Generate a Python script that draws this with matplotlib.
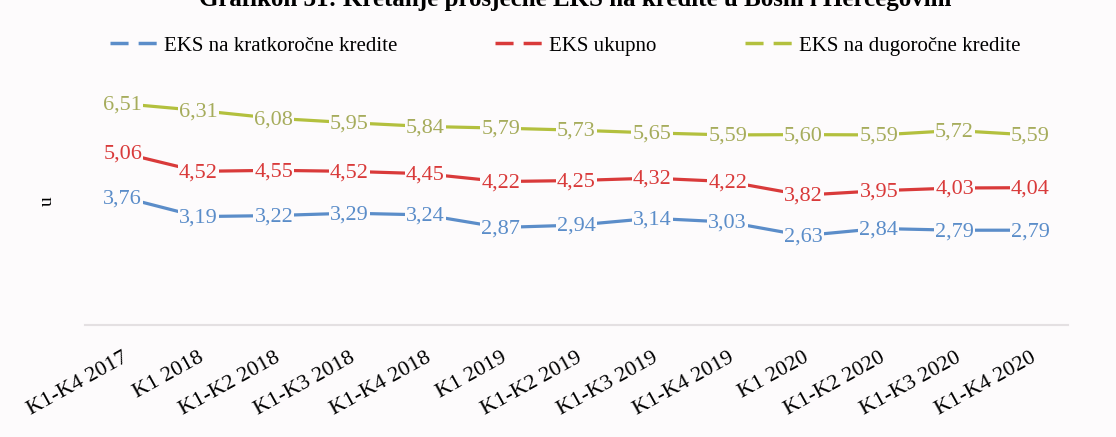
import matplotlib.pyplot as plt
from matplotlib.lines import Line2D

periods = ['K1-K4 2017', 'K1 2018', 'K1-K2 2018', 'K1-K3 2018', 'K1-K4 2018',
           'K1 2019', 'K1-K2 2019', 'K1-K3 2019', 'K1-K4 2019',
           'K1 2020', 'K1-K2 2020', 'K1-K3 2020', 'K1-K4 2020']
eks_kratko = [3.76, 3.19, 3.22, 3.29, 3.24, 2.87, 2.94, 3.14, 3.03, 2.63, 2.84, 2.79, 2.79]
eks_ukupno = [5.06, 4.52, 4.55, 4.52, 4.45, 4.22, 4.25, 4.32, 4.22, 3.82, 3.95, 4.03, 4.04]
eks_dugo = [6.51, 6.31, 6.08, 5.95, 5.84, 5.79, 5.73, 5.65, 5.59, 5.60, 5.59, 5.72, 5.59]

bg = '#fdfbfc'
plt.rcParams['font.family'] = ['Liberation Serif', 'DejaVu Serif']

fig = plt.figure(figsize=(11.16, 4.37), dpi=100, facecolor=bg)
ax = fig.add_axes([0.076, 0.256, 0.881, 0.545], facecolor=bg)

series = [
    (eks_kratko, '#5b8dc9', '#5b8dc9', 'EKS na kratkoročne kredite'),
    (eks_ukupno, '#d93a3a', '#d93a3a', 'EKS ukupno'),
    (eks_dugo, '#b3c03e', '#a6ac5c', 'EKS na dugoročne kredite'),
]
x = list(range(len(periods)))
for vals, lc, tc, name in series:
    ax.plot(x, vals, color=lc, lw=2.3, zorder=2)
    for xi, v in zip(x, vals):
        ax.text(xi, v - 0.04, f'{v:.2f}'.replace('.', ','), color=tc, fontsize=16,
                ha='center', va='center', zorder=3,
                bbox=dict(boxstyle='square,pad=0.05', fc=bg, ec='none'))

ax.set_xlim(-0.5, 12.5)
ax.set_ylim(0, 7)
ax.set_yticks([])
ax.set_xticks(x)
ax.set_xticklabels(periods, rotation=29, ha='right', rotation_mode='anchor',
                   fontsize=16)
ax.tick_params(axis='x', length=0, pad=17)
for s in ['top', 'right', 'left']:
    ax.spines[s].set_visible(False)
ax.spines['bottom'].set_color('#e4e0e2')
ax.spines['bottom'].set_linewidth(1.5)

ax.text(-1.0, 3.65, 'u', rotation=90, fontsize=14, ha='center', va='center')

# legend entries placed one by one
leg_x = [110 / 1116, 495 / 1116, 745 / 1116]
for (vals, lc, tc, name), lx in zip(series, leg_x):
    h = Line2D([], [], color=lc, lw=2.5, linestyle=(0, (5.2, 2.9)))
    fig.legend([h], [name], loc='center left', bbox_to_anchor=(lx, 0.895),
               frameon=False, fontsize=15, handlelength=2.3, handletextpad=0.3,
               borderpad=0, borderaxespad=0)

fig.text(0.515, 1 - 6 / 437, 'Grafikon 31: Kretanje prosječne EKS na kredite u Bosni i Hercegovini',
         ha='center', va='baseline', fontsize=18, fontweight='bold')

fig.savefig('out.png', dpi=100, facecolor=bg)
